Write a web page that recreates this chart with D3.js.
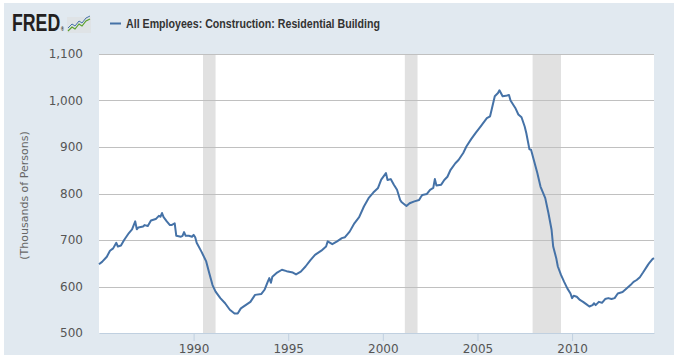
<!DOCTYPE html>
<html>
<head>
<meta charset="utf-8">
<script src="https://cdn.jsdelivr.net/npm/d3@7"></script>
<style>
body { margin: 0; background: #fff; }
svg { display: block; }
</style>
</head>
<body>
<svg width="681" height="360"></svg>
<script>
// monthly points (thousands of persons)
var months = ['1985-01','1985-03','1985-06','1985-08','1985-10','1985-12','1986-01','1986-03','1986-05','1986-08',
'1986-10','1986-12','1987-01','1987-02','1987-05','1987-06','1987-08','1987-10','1988-01','1988-03',
'1988-04','1988-05','1988-06','1988-08','1988-10','1988-11','1989-01','1989-02','1989-05','1989-06',
'1989-07','1989-08','1989-10','1989-12','1990-01','1990-02','1990-03','1990-06','1990-09','1990-11',
'1991-01','1991-03','1991-06','1991-09','1991-12','1992-03','1992-05','1992-07','1992-10','1993-01',
'1993-04','1993-08','1993-10','1993-12','1994-01','1994-02','1994-03','1994-06','1994-09','1994-12',
'1995-04','1995-06','1995-09','1995-12','1996-03','1996-06','1996-10','1997-01','1997-02','1997-05',
'1997-08','1997-11','1998-01','1998-04','1998-07','1998-10','1999-01','1999-04','1999-07','1999-10',
'1999-12','2000-03','2000-04','2000-06','2000-08','2000-10','2000-12','2001-01','2001-04','2001-06',
'2001-09','2001-12','2002-01','2002-02','2002-05','2002-07','2002-09','2002-10','2002-11','2003-02',
'2003-04','2003-06','2003-08','2003-11','2004-01','2004-04','2004-06','2004-09','2004-12','2005-03',
'2005-07','2005-09','2005-10','2005-12','2006-02','2006-03','2006-05','2006-07','2006-09','2006-10',
'2007-01','2007-03','2007-05','2007-07','2007-08','2007-10','2007-11','2008-01','2008-03','2008-05',
'2008-08','2008-10','2008-12','2009-01','2009-03','2009-04','2009-06','2009-08','2009-10','2009-12',
'2010-01','2010-02','2010-04','2010-06','2010-08','2010-10','2010-12','2011-02','2011-03','2011-04',
'2011-06','2011-08','2011-10','2011-12','2012-02','2012-04','2012-06','2012-09','2012-11','2013-02',
'2013-04','2013-06','2013-08','2013-10','2014-01','2014-02','2014-04','2014-05'];

var employees = [648,653,664,677,682,694,686,688,700,715,
723,740,723,727,729,732,730,742,745,752,
750,758,749,740,732,732,736,709,707,709,
717,709,709,707,711,706,694,675,654,628,
603,589,575,564,550,542,542,553,560,567,
582,584,593,610,618,608,621,630,636,633,
630,626,632,643,656,668,677,686,697,691,
697,704,706,718,736,749,772,790,802,812,
830,844,829,831,819,808,786,781,773,779,
783,786,792,797,799,808,812,831,817,819,
829,836,851,865,872,887,901,917,931,944,
962,966,980,1009,1016,1022,1009,1010,1012,1000,
984,970,964,944,930,895,894,869,844,815,
790,758,722,686,661,643,625,610,596,585,
575,580,578,571,567,562,557,560,564,560,
567,565,573,575,573,575,585,588,594,603,
610,614,620,630,646,651,659,661];

var recessionStart = ['1990-07','2001-03','2007-12'];
var recessionEnd = ['1991-03','2001-11','2009-06'];

var yTicks = [500, 600, 700, 800, 900, 1000, 1100];
var xTickYears = [1990, 1995, 2000, 2005, 2010];

var seriesName = 'All Employees: Construction: Residential Building';
var yTitle = '(Thousands of Persons)';

var parseMonth = d3.timeParse('%Y-%m');
var data = months.map(function(m, i) { return {date: parseMonth(m), value: employees[i]}; });

var svg = d3.select('svg');
var margin = {top: 54, right: 27, bottom: 27, left: 99};
var width = 681 - margin.left - margin.right,
    height = 360 - margin.top - margin.bottom;

// outer panel
svg.append('rect').attr('x', 4).attr('y', 3).attr('width', 670).attr('height', 352).attr('fill', '#e1e9f0');

// header: logo, squeezed horizontally since no narrow font is installed
var logo = svg.append('g');
var logoText = logo.append('text')
  .attr('transform', 'translate(12,31) scale(0.77,1)')
  .style('font-family', '"Liberation Sans", Arial, sans-serif')
  .style('font-weight', 'bold')
  .style('font-size', '23px')
  .attr('fill', '#231f20');
logoText.append('tspan').text('FRED');
logoText.append('tspan').attr('dx', 1).style('font-size', '5px').text('®');
logo.append('rect').attr('x', 67).attr('y', 17).attr('width', 24).attr('height', 16).attr('fill', '#dfe3e6');
logo.append('polyline')
  .attr('points', '68,31 72,27 75,29 79,24 82,26 86,21 90,19')
  .attr('fill', 'none').attr('stroke', '#5aa02c').attr('stroke-width', 1.2);
logo.append('polyline')
  .attr('points', '68,28 72,24 75,26 79,21 82,23 86,18 90,16')
  .attr('fill', 'none').attr('stroke', '#4572a7').attr('stroke-width', 1);

// legend
svg.append('line').attr('x1', 110).attr('x2', 121).attr('y1', 23.5).attr('y2', 23.5)
  .attr('stroke', '#4572a7').attr('stroke-width', 2);
svg.append('text')
  .attr('x', 126).attr('y', 28)
  .attr('textLength', 254)
  .attr('lengthAdjust', 'spacingAndGlyphs')
  .style('font-family', '"Liberation Sans", Arial, sans-serif')
  .style('font-weight', 'bold')
  .style('font-size', '13px')
  .attr('fill', '#333')
  .text(seriesName);

var g = svg.append('g').attr('transform', 'translate(' + margin.left + ',' + margin.top + ')');

var x = d3.scaleTime()
  .domain([parseMonth('1985-01'), parseMonth('2014-05')])
  .range([0, width]);
var y = d3.scaleLinear().domain([500, 1100]).range([height, 0]);

g.append('rect').attr('width', width).attr('height', height).attr('fill', '#fff');

// recession bars
g.selectAll('.recession')
  .data(recessionStart)
  .enter().append('rect')
  .attr('class', 'recession')
  .attr('x', function(d) { return x(parseMonth(d)); })
  .attr('width', function(d, i) { return x(parseMonth(recessionEnd[i])) - x(parseMonth(d)); })
  .attr('y', 0)
  .attr('height', height)
  .attr('fill', '#e1e1e1');

// horizontal grid
g.selectAll('.grid')
  .data(yTicks.slice(1))
  .enter().append('line')
  .attr('class', 'grid')
  .attr('x1', 0).attr('x2', width)
  .attr('y1', function(d) { return Math.round(y(d)) + 0.5; })
  .attr('y2', function(d) { return Math.round(y(d)) + 0.5; })
  .attr('stroke', '#c0c0c0');

// y labels
g.selectAll('.ylab')
  .data(yTicks)
  .enter().append('text')
  .attr('class', 'ylab')
  .attr('x', -16)
  .attr('y', function(d) { return y(d) + 4; })
  .attr('text-anchor', 'end')
  .style('font-family', '"DejaVu Sans", Verdana, sans-serif')
  .style('font-size', '12px')
  .attr('fill', '#555')
  .text(d3.format(','));

// x axis
var xAxis = g.append('g')
  .attr('transform', 'translate(0,' + height + ')')
  .call(d3.axisBottom(x)
    .tickValues(xTickYears.map(function(yr) { return new Date(yr, 0, 1); }))
    .tickFormat(d3.timeFormat('%Y'))
    .tickSize(8)
    .tickSizeOuter(0));
xAxis.select('.domain').attr('stroke', '#c0d0e0');
xAxis.selectAll('.tick line').attr('stroke', '#c0d0e0');
xAxis.selectAll('.tick text')
  .attr('y', 11)
  .style('font-family', '"DejaVu Sans", Verdana, sans-serif')
  .style('font-size', '12px')
  .attr('fill', '#555');

// y title
svg.append('text')
  .attr('transform', 'translate(28,' + (margin.top + height / 2 + 2) + ') rotate(-90)')
  .attr('text-anchor', 'middle')
  .style('font-family', '"DejaVu Sans", Verdana, sans-serif')
  .style('font-size', '11px')
  .attr('fill', '#666')
  .text(yTitle);

// series line
g.append('path')
  .datum(data)
  .attr('fill', 'none')
  .attr('stroke', '#4572a7')
  .attr('stroke-width', 2)
  .attr('stroke-linejoin', 'round')
  .attr('d', d3.line()
    .x(function(d) { return x(d.date); })
    .y(function(d) { return y(d.value); }));
</script>
</body>
</html>
